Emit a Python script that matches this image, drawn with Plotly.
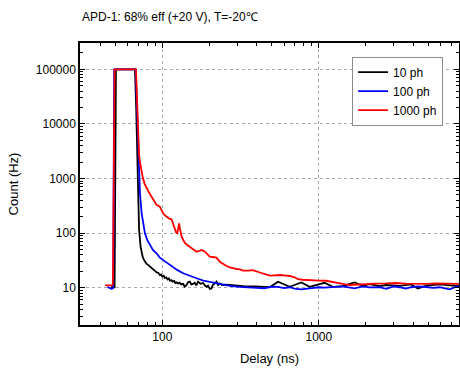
import plotly.graph_objects as go

title_text = "APD-1: 68% eff (+20 V), T=-20\u2103"
series_names = ["10 ph", "100 ph", "1000 ph"]
series_colors = ["#000000", "#0000ff", "#ff0000"]

x_10ph = [47, 49.5, 50.5, 66.8, 68, 69, 70.1, 71, 72.6, 73.7, 74.8, 76, 77.4, 79, 81.2, 83, 85.3, 87.5,
          89.6, 92, 94, 96.4, 98, 100, 102, 103.7, 106, 108, 110, 111.6, 114, 116, 119, 121, 123, 126,
          129.3, 132, 135.8, 139, 142.7, 146, 149.8, 153, 157, 161, 165, 169.2, 175, 182, 188, 192, 196,
          201, 206, 210, 216, 222, 227, 233, 240, 250, 270, 300, 340, 390, 440, 485, 549, 651, 773, 874,
          1088, 1230, 1425, 1692, 1911, 2109, 2443, 2697, 3275, 3890, 4290, 4850, 5900, 6840, 7540, 7950]
y_10ph = [10.2, 10.2, 100000, 100000, 20000, 2200, 600, 114, 56, 42, 37, 33, 30, 27.5, 26, 24.5, 22.6, 21.5,
          20.5, 19, 18.8, 17, 17.5, 16, 16.5, 15, 15.5, 14.2, 14.8, 13.5, 13.8, 12.9, 13.3, 12.2, 12.6, 12,
          12.3, 11.5, 11.8, 10.4, 11.2, 12.6, 12.9, 11.5, 11.7, 12.3, 11, 12.9, 11.8, 12.2, 10.8, 10.4, 10.9,
          9.5, 9.7, 11.2, 12, 13, 11.2, 12, 11.2, 11.4, 11.2, 10.8, 10.6, 10.6, 10.4, 10.2, 12.9, 10.4, 12.5, 10.4,
          12.3, 10.4, 10.7, 12.5, 10.8, 11.6, 10.7, 11.2, 10.8, 11.5, 9.7, 10.9, 11.5, 11.0, 10.8, 11.0]

x_100ph = [44.5, 46, 47.5, 48.5, 49.2, 67.5, 68.5, 69.5, 70.1, 71, 71.9, 73.7, 75.5, 77.4, 80, 83.2, 87,
           91.8, 96, 101.2, 108, 117.2, 125, 135.9, 149, 165.4, 183, 201, 220, 244, 270, 312, 350, 400,
           450, 497, 548, 600, 651, 700, 773, 874, 1000, 1088, 1230, 1425, 1692, 1911, 2109, 2443, 2697,
           3000, 3275, 3600, 3890, 4290, 4850, 5400, 5900, 6840, 7540, 7950]
y_100ph = [10.3, 9.8, 9.5, 10, 100000, 100000, 30000, 9000, 4420, 1200, 536, 230, 140, 99, 75, 60.5, 49,
           42.7, 36, 32, 28, 24.3, 21, 18.4, 16.5, 14.9, 13.5, 12.8, 11.8, 11.3, 10.8, 10.4, 10.2, 10.2,
           9.7, 10.5, 10.4, 9.8, 10.2, 9.6, 9.3, 9.7, 10.2, 10, 10.4, 10.6, 9.7, 10.6, 10.1, 10.2, 9.5,
           10.6, 10.2, 9.6, 10.2, 10.6, 10.3, 9.9, 10.2, 9.3, 10.5, 10.4]

x_1000ph = [43, 47.5, 48.3, 49.5, 67.8, 68.5, 69.3, 70.1, 71, 71.9, 73, 74.8, 77, 79.3, 82, 85.3, 88.5,
            91.8, 94, 96.4, 98.5, 101.2, 105, 108.9, 111.5, 114.5, 117, 120.2, 122.5, 124.5, 126.5, 128,
            129.5, 130.7, 133, 135.9, 140, 145, 149.9, 157, 165.4, 171, 178, 186.8, 193, 201, 210, 221.7,
            232.8, 245, 257, 270, 283, 300, 312.5, 328, 350, 379, 420, 485, 520, 562, 600, 650, 700, 736,
            790, 832, 900, 1000, 1117, 1200, 1295, 1420, 1577, 1800, 2011, 2300, 2697, 3100, 3600, 4190,
            4900, 5600, 6500, 7530, 7950]
y_1000ph = [11, 11, 11.5, 100000, 100000, 40000, 12000, 5000, 2600, 2000, 1500, 1080, 800, 661, 560, 464,
            390, 327, 320, 304, 270, 230, 205, 187, 182, 179, 150, 114, 102, 99, 118, 151, 120, 99, 85,
            74.8, 65, 60, 56.4, 50, 45.7, 47, 49, 45.7, 41, 37, 36.5, 35.5, 29.9, 27, 25, 23.6, 22.6, 22,
            21.7, 20.5, 20.5, 21, 19, 16.6, 16.8, 17.1, 16.8, 16.4, 15.5, 14.4, 14, 13.8, 13.6, 13.5, 13.4,
            13, 12.5, 11.8, 11.2, 11.5, 11.7, 11.9, 12, 12.2, 11.9, 11.7, 11.8, 12, 11.8, 11.7, 11.7]

y_tickvals = [10, 100, 1000, 10000, 100000]
y_ticktext = ["10", "100", "1000", "10000", "100000"]
x_tickvals = [100, 1000]
x_ticktext = ["100", "1000"]

xs = [x_10ph, x_100ph, x_1000ph]
ys = [y_10ph, y_100ph, y_1000ph]

fig = go.Figure()
for xv, yv, name, col in zip(xs, ys, series_names, series_colors):
    fig.add_trace(go.Scatter(x=xv, y=yv, mode="lines", name=name,
                             line=dict(color=col, width=1.8)))

font_family = "Liberation Sans, Arial, sans-serif"
axis_common = dict(
    type="log", showline=True, linecolor="black", linewidth=1.5, mirror="allticks",
    ticks="inside", ticklen=5, tickwidth=1, tickcolor="black",
    showgrid=True, gridcolor="#a8a8a8", griddash="dot", gridwidth=1,
    zeroline=False, tickfont=dict(size=12, color="black", family=font_family),
    minor=dict(ticks="inside", ticklen=3, tickcolor="black", showgrid=False, dtick="D1"),
)

fig.update_xaxes(**axis_common, range=[1.4735, 3.896], tickvals=x_tickvals, ticktext=x_ticktext,
                 title=dict(text="Delay (ns)", font=dict(size=13, color="black", family=font_family), standoff=11))
fig.update_yaxes(**axis_common, range=[0.317, 5.482], tickvals=y_tickvals, ticktext=y_ticktext,
                 title=dict(text="Count (Hz)", font=dict(size=13, color="black", family=font_family), standoff=14))

fig.update_layout(
    width=460, height=371,
    margin=dict(l=80, r=1, t=43, b=46, autoexpand=False),
    paper_bgcolor="white", plot_bgcolor="white",
    font=dict(family=font_family, color="black"),
    title=dict(text=title_text, x=82 / 460, xanchor="left", xref="container",
               y=1 - 17 / 371, yanchor="middle", yref="container",
               font=dict(size=12, color="black", family=font_family)),
    legend=dict(x=0.958, y=0.952, xanchor="right", yanchor="top",
                bgcolor="white", bordercolor="#8c8c8c", borderwidth=1,
                font=dict(size=12, color="black", family=font_family),
                tracegroupgap=0, itemwidth=30),
    showlegend=True,
)

fig.write_html("out.html")
